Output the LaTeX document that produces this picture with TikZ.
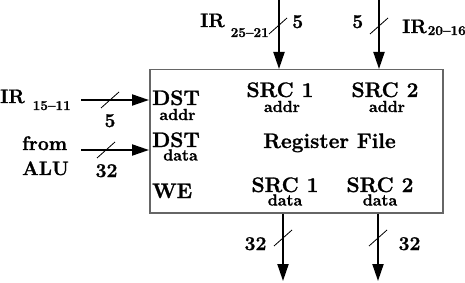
\documentclass[tikz,border=0pt]{standalone}
\usepackage{fontspec}
\setmainfont{Latin Modern Roman}[BoldFeatures={FakeBold=1.2}]
\usetikzlibrary{arrows.meta}

% IR label with lowered bit range: gap, drop, range
\newcommand{\irlab}[3]{IR\hspace{#1}\raisebox{-#2}{\fontsize{13.5}{13.5}\selectfont #3}}

\begin{document}
\begin{tikzpicture}[x=1pt, y=-1pt,
    lab/.style={font=\fontsize{21}{21}\selectfont\bfseries, inner sep=0pt, anchor=base},
    sml/.style={font=\fontsize{16}{16}\selectfont\bfseries, inner sep=0pt, anchor=base},
    num/.style={font=\fontsize{19.5}{19.5}\selectfont\bfseries, inner sep=0pt, anchor=base},
    bus/.style={line width=2pt, -{Triangle[length=17pt, width=11pt]}},
    tick/.style={line width=0.8pt}]

  \useasboundingbox (0,0) rectangle (465,283);

  % --- register file ---
  \node[draw=black!60, line width=1.5pt, minimum width=293pt, minimum height=143pt,
        inner sep=0pt, anchor=north west] (rf) at (149,69) {};

  \node[lab, anchor=base west] (dst1) at (152,105) {DST};
  \node[sml] (dstaddr) at (177.5,120) {addr};
  \node[lab, anchor=base west] (dst2) at (152,147) {DST};
  \node[sml] (dstdata) at (180.5,160.5) {data};
  \node[lab, anchor=base west] (we) at (152,198) {WE};

  \node[lab] (src1a) at (280,97) {SRC 1};
  \node[sml] (src1addr) at (282,112) {addr};
  \node[lab] (src2a) at (385,97) {SRC 2};
  \node[sml] (src2addr) at (387,112) {addr};

  \node[lab] (title) at (329.5,148) {Register File};

  \node[lab] (src1d) at (285,192) {SRC 1};
  \node[sml] (src1data) at (285,205.5) {data};
  \node[lab] (src2d) at (380,192) {SRC 2};
  \node[sml] (src2data) at (380,205.5) {data};

  % --- inputs from the left ---
  \coordinate (inA) at (81,100);
  \coordinate (inB) at (81,150);
  \draw[bus] (inA) -- (inA -| rf.west);
  \draw[bus] (inB) -- (inB -| rf.west);

  \node[num, anchor=base west] (irdst) at (0,103) {\irlab{8pt}{7pt}{15--11}};
  \node[num] (wdst) at (110,127) {5};
  \node[num, anchor=base west] (from) at (22,150) {from};
  \node[num, anchor=base west] (alu) at (22,175) {ALU};
  \node[num] (wdata) at (106.5,177) {32};

  % --- inputs from the top ---
  \coordinate (inS1) at (279,0);
  \coordinate (inS2) at (379,0);
  \draw[bus] (inS1) -- (inS1 |- rf.north);
  \draw[bus] (inS2) -- (inS2 |- rf.north);

  \node[num, anchor=base west] (irs1) at (200,27) {\irlab{6pt}{10pt}{25--21}};
  \node[num, anchor=base west] (ws1) at (292,28) {5};
  \node[num, anchor=base west] (ws2) at (352,28) {5};
  \node[num, anchor=base west] (irs2) at (402,33) {\irlab{1pt}{2pt}{20--16}};

  % --- outputs ---
  \coordinate (outS1) at (283,281);
  \coordinate (outS2) at (378,281);
  \draw[bus] (rf.south -| outS1) -- (outS1);
  \draw[bus] (rf.south -| outS2) -- (outS2);

  \node[num] (wout1) at (255.5,250) {32};
  \node[num] (wout2) at (409.5,250) {32};

  % bus width slashes
  \foreach \p in {(110,100), (106,150), (278,26), (379,26), (283,238), (378,238)}
    \draw[tick] \p ++(-9,8) -- ++(18,-16);

\end{tikzpicture}
\end{document}
